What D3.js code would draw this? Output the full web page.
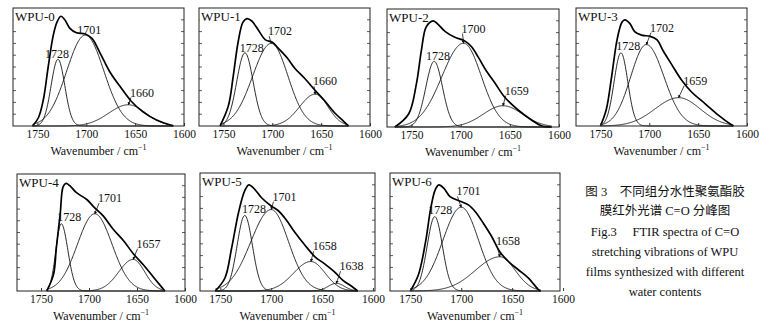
<!DOCTYPE html>
<html>
<head>
<meta charset="utf-8">
<script src="https://cdn.jsdelivr.net/npm/d3@7"></script>
<style>
  body { margin: 0; background: #fff; }
</style>
</head>
<body>
<div id="chart"></div>
<script>
// ---------------------------------------------------------------------------
// FTIR C=O band, peak fitting for WPU-0 ... WPU-6
// spectra: [wavenumber, relative absorbance]
// peaks:   [label, centre, height, sigma (high-wn side), sigma (low-wn side),
//           label anchor wn, label anchor abs, leader?]
// ---------------------------------------------------------------------------

const panelNames = ['WPU-0', 'WPU-1', 'WPU-2', 'WPU-3', 'WPU-4', 'WPU-5', 'WPU-6'];
const xTicks = [1750, 1700, 1650, 1600];

const wpu0Spectrum = [[1755, 0], [1749, 0.07], [1744, 0.22], [1739, 0.50], [1734, 0.76], [1730, 0.88], [1726, 0.93],
  [1722, 0.90], [1717, 0.83], [1710, 0.79], [1701, 0.78], [1694, 0.74], [1686, 0.62], [1676, 0.46],
  [1665, 0.33], [1654, 0.21], [1642, 0.12], [1628, 0.05], [1611, 0]];
const wpu1Spectrum = [[1753.5, 0], [1745, 0.17], [1740, 0.42], [1735, 0.71], [1730, 0.88], [1726, 0.91], [1721, 0.89],
  [1714, 0.81], [1707, 0.73], [1700, 0.71], [1694, 0.66], [1685, 0.58], [1677, 0.49], [1666.5, 0.40],
  [1656, 0.30], [1646, 0.21], [1636, 0.11], [1627, 0.04], [1622, 0]];
const wpu2Spectrum = [[1767, 0], [1753, 0.11], [1745, 0.37], [1740, 0.65], [1735, 0.85], [1728, 0.90], [1723, 0.87],
  [1716, 0.81], [1706, 0.76], [1696, 0.73], [1689, 0.68], [1682, 0.59], [1675, 0.49], [1665, 0.37],
  [1655, 0.25], [1641, 0.14], [1628, 0.06], [1618, 0.01], [1607.5, 0]];
const wpu3Spectrum = [[1750, 0], [1744, 0.14], [1738.5, 0.42], [1733, 0.73], [1728, 0.88], [1725, 0.90], [1720, 0.87],
  [1715, 0.80], [1708, 0.77], [1699, 0.76], [1692, 0.73], [1686, 0.64], [1677, 0.52], [1667, 0.39],
  [1657, 0.29], [1643, 0.19], [1629, 0.09], [1616, 0.01], [1614, 0]];
const wpu4Spectrum = [[1744, 0], [1737, 0.14], [1734, 0.37], [1730, 0.66], [1727, 0.89], [1724, 0.92], [1720, 0.90],
  [1713, 0.84], [1702, 0.78], [1694, 0.71], [1685, 0.64], [1675, 0.53], [1664, 0.43], [1654, 0.32],
  [1643, 0.22], [1633, 0.12], [1623, 0.02], [1621, 0]];
const wpu5Spectrum = [[1755, 0], [1745.5, 0.11], [1739, 0.36], [1732, 0.67], [1726, 0.85], [1722, 0.90], [1716, 0.86],
  [1709.5, 0.79], [1700, 0.72], [1693, 0.68], [1685, 0.60], [1677, 0.50], [1667, 0.39], [1657, 0.29],
  [1647.5, 0.23], [1637.6, 0.16], [1629.5, 0.09], [1621, 0.04], [1615, 0]];
const wpu6Spectrum = [[1750, 0], [1742, 0.14], [1735, 0.42], [1730, 0.70], [1725.5, 0.86], [1722, 0.90], [1717, 0.87],
  [1711, 0.80], [1701, 0.76], [1693, 0.73], [1686, 0.67], [1678, 0.57], [1670, 0.46], [1662, 0.33],
  [1653.6, 0.25], [1644, 0.18], [1634, 0.11], [1624, 0.01], [1622, 0]];

const wpu0Peaks = [['1728', 1729, 0.565, 7, 7, 1730, 0.58, 0], ['1701', 1701, 0.77, 19, 19, 1697, 0.78, 0],
  ['1660', 1657, 0.18, 20, 18, 1643, 0.25, 1]];
const wpu1Peaks = [['1728', 1728, 0.62, 8.4, 8.4, 1721, 0.63, 0], ['1702', 1701, 0.70, 19, 17, 1692, 0.77, 1],
  ['1660', 1656, 0.27, 16, 13, 1646, 0.345, 1]];
const wpu2Peaks = [['1728', 1727, 0.556, 8.5, 8.5, 1723, 0.57, 0], ['1700', 1697, 0.71, 22, 18, 1687, 0.80, 1],
  ['1659', 1657, 0.18, 20, 20, 1643, 0.275, 1]];
const wpu3Peaks = [['1728', 1729, 0.62, 7, 7, 1721.5, 0.64, 0], ['1702', 1703, 0.69, 16, 18, 1687, 0.80, 1],
  ['1659', 1670, 0.24, 24, 22, 1653, 0.35, 1]];
const wpu4Peaks = [['1728', 1729, 0.575, 5.5, 7, 1720.5, 0.60, 0], ['1701', 1694, 0.66, 18, 18, 1678, 0.76, 1],
  ['1657', 1654, 0.27, 15, 12, 1638, 0.37, 1]];
const wpu5Peaks = [['1728', 1726, 0.64, 7.5, 7.5, 1717, 0.66, 0], ['1701', 1700, 0.69, 20, 17, 1687, 0.765, 1],
  ['1658', 1661, 0.25, 17, 14, 1647.5, 0.345, 1], ['1638', 1636, 0.065, 8, 8, 1621, 0.176, 1]];
const wpu6Peaks = [['1728', 1726, 0.63, 7.5, 7.5, 1720.6, 0.65, 0], ['1701', 1700, 0.71, 18, 17, 1693, 0.81, 1],
  ['1658', 1662, 0.29, 24, 15, 1654, 0.39, 1]];

const captionZh = ['图 3\u2003不同组分水性聚氨酯胶', '膜红外光谱 C=O 分峰图'];
const captionEn = ['Fig.3\u2003 FTIR spectra of C=O', 'stretching vibrations of WPU',
  'films synthesized with different', 'water contents'];

// ---------------------------------------------------------------------------
const SERIF = '"Liberation Serif", "Times New Roman", serif';
const spectra = [wpu0Spectrum, wpu1Spectrum, wpu2Spectrum, wpu3Spectrum, wpu4Spectrum, wpu5Spectrum, wpu6Spectrum];
const peakSets = [wpu0Peaks, wpu1Peaks, wpu2Peaks, wpu3Peaks, wpu4Peaks, wpu5Peaks, wpu6Peaks];

// frame of each panel on the page + its wavenumber window
const frames = [
  { x: 13, y: 8, w: 171, h: 118, dom: [1775, 1600] },
  { x: 199, y: 8, w: 171, h: 118, dom: [1775, 1600] },
  { x: 387, y: 9, w: 172, h: 118, dom: [1775, 1600] },
  { x: 576, y: 8, w: 171, h: 118, dom: [1775, 1600] },
  { x: 17, y: 174, w: 168, h: 117, dom: [1775, 1600] },
  { x: 200, y: 173, w: 175, h: 118, dom: [1770, 1598] },
  { x: 390, y: 173, w: 170, h: 118, dom: [1770, 1603] }
];

const svg = d3.select('#chart').append('svg')
  .attr('width', 781).attr('height', 329)
  .style('display', 'block');

svg.append('rect').attr('width', 781).attr('height', 329).attr('fill', '#fff');

// small arrowhead for the peak leaders
svg.append('defs').append('marker')
  .attr('id', 'tip')
  .attr('viewBox', '0 0 6 6')
  .attr('refX', 5).attr('refY', 3)
  .attr('markerWidth', 4).attr('markerHeight', 4)
  .attr('orient', 'auto')
  .append('path').attr('d', 'M0,0 L6,3 L0,6 Z').attr('fill', '#111');

// asymmetric gaussian band
function band(p, wn) {
  const s = wn > p[1] ? p[3] : p[4];
  return p[2] * Math.exp(-((wn - p[1]) ** 2) / (2 * s * s));
}

panelNames.forEach((name, i) => {
  const f = frames[i];
  const spec = spectra[i];
  const peaks = peakSets[i];

  const x = d3.scaleLinear().domain(f.dom).range([0, f.w]);
  const y = d3.scaleLinear().domain([0, 1]).range([f.h, 0]);

  const g = svg.append('g').attr('transform', `translate(${f.x},${f.y})`);

  // inner y ticks, both sides
  const yt = d3.range(0.1, 1.0, 0.1);
  g.selectAll('line.yl').data(yt).join('line')
    .attr('x1', 0).attr('x2', 3)
    .attr('y1', d => y(d)).attr('y2', d => y(d))
    .attr('stroke', '#333').attr('stroke-width', 0.8);
  g.selectAll('line.yr').data(yt).join('line')
    .attr('x1', f.w - 3).attr('x2', f.w)
    .attr('y1', d => y(d)).attr('y2', d => y(d))
    .attr('stroke', '#333').attr('stroke-width', 0.8);

  // sample name, on a white patch so the ticks don't run into it
  const nm = g.append('text')
    .attr('x', 2).attr('y', 13)
    .attr('font-size', '13px')
    .attr('font-family', SERIF)
    .attr('fill', '#111')
    .text(name);
  const bb = nm.node().getBBox();
  g.insert('rect', () => nm.node())
    .attr('x', 0.5).attr('y', bb.y)
    .attr('width', bb.width + 2).attr('height', bb.height)
    .attr('fill', '#fff');

  // fitted component bands (thin)
  const wnHi = spec[0][0];
  const wnLo = spec[spec.length - 1][0];
  const grid = d3.range(wnHi, wnLo - 0.01, -0.5);
  const bandLine = d3.line().x(d => x(d[0])).y(d => y(d[1]));
  peaks.forEach(p => {
    g.append('path')
      .datum(grid.map(wn => [wn, band(p, wn)]))
      .attr('d', bandLine)
      .attr('fill', 'none')
      .attr('stroke', '#111')
      .attr('stroke-width', 0.9);
  });

  // measured spectrum (thick)
  g.append('path')
    .datum(spec)
    .attr('d', d3.line().x(d => x(d[0])).y(d => y(d[1])).curve(d3.curveCatmullRom.alpha(0.5)))
    .attr('fill', 'none')
    .attr('stroke', '#000')
    .attr('stroke-width', 1.7)
    .attr('stroke-linejoin', 'round');

  // frame
  g.append('rect')
    .attr('width', f.w).attr('height', f.h)
    .attr('fill', 'none').attr('stroke', '#222').attr('stroke-width', 1);

  // x axis
  const ax = g.append('g')
    .attr('transform', `translate(0,${f.h})`)
    .call(d3.axisBottom(x).tickValues(xTicks).tickSize(-3).tickPadding(4).tickFormat(d3.format('d')));
  ax.attr('font-family', SERIF).attr('font-size', '11.5px');
  ax.select('.domain').remove();
  ax.selectAll('line').attr('stroke', '#333');
  ax.selectAll('text').attr('fill', '#111');

  const title = g.append('text')
    .attr('x', f.w / 2).attr('y', f.h + 29)
    .attr('text-anchor', 'middle')
    .attr('font-family', SERIF)
    .attr('fill', '#111')
    .attr('font-size', '12px');
  title.append('tspan').text('Wavenumber / cm');
  title.append('tspan').attr('dy', -5).attr('font-size', '8px').text('\u22121');

  // peak labels
  peaks.forEach(p => {
    const lx = x(p[5]);
    const ly = y(p[6]);
    const t = g.append('text')
      .attr('x', lx).attr('y', ly)
      .attr('text-anchor', 'middle')
      .attr('font-family', SERIF)
      .attr('fill', '#111')
      .attr('font-size', '12px')
      .text(p[0]);
    if (p[7]) {
      const tw = t.node().getComputedTextLength();
      g.append('line')
        .attr('x1', lx - tw / 2 + 1).attr('y1', ly + 1)
        .attr('x2', x(p[1])).attr('y2', y(p[2]))
        .attr('stroke', '#111').attr('stroke-width', 0.8)
        .attr('marker-end', 'url(#tip)');
    }
  });
});

// figure caption
const cap = svg.append('g');
captionZh.forEach((line, i) => {
  cap.append('text')
    .attr('x', 665).attr('y', 196 + i * 19)
    .attr('text-anchor', 'middle')
    .attr('font-size', '12.5px')
    .attr('fill', '#111')
    .attr('font-family', '"Liberation Serif", "Noto Sans CJK SC", serif')
    .style('white-space', 'pre')
    .text(line);
});
captionEn.forEach((line, i) => {
  cap.append('text')
    .attr('x', 665).attr('y', 236 + i * 20)
    .attr('text-anchor', 'middle')
    .attr('font-size', '12.5px')
    .attr('fill', '#111')
    .attr('font-family', SERIF)
    .style('white-space', 'pre')
    .text(line);
});
</script>
</body>
</html>
